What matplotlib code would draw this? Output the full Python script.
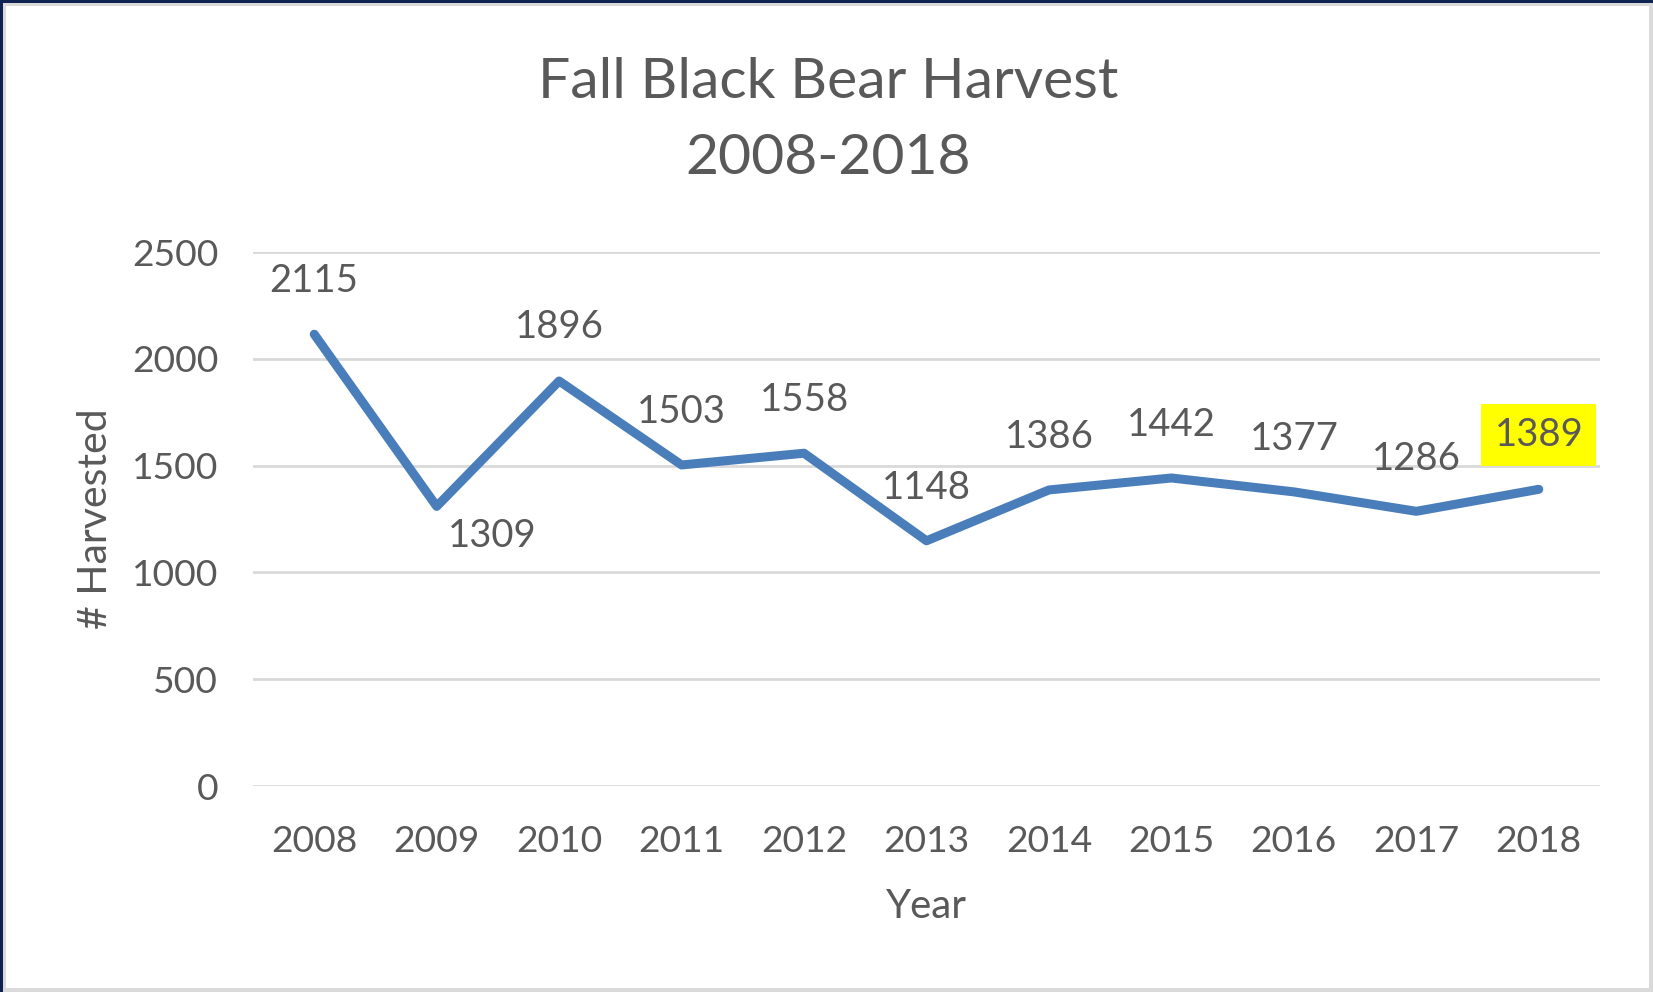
import matplotlib
matplotlib.use("Agg")
import matplotlib.pyplot as plt
from matplotlib.patches import Rectangle

years = ["2008", "2009", "2010", "2011", "2012", "2013", "2014", "2015", "2016", "2017", "2018"]
harvest = [2115, 1309, 1896, 1503, 1558, 1148, 1386, 1442, 1377, 1286, 1389]
y_ticks = [0, 500, 1000, 1500, 2000, 2500]
# label offsets in points (dx, dy) relative to each point
label_offsets = [(0, 38), (40, -21), (0, 39), (0, 38), (0, 38), (0, 38),
                 (0, 38), (0, 38), (0, 38), (0, 38), (0, 39)]

W, H = 1653, 992
fig = plt.figure(figsize=(W / 100, H / 100), dpi=100, facecolor="#DADADA")
plt.rcParams['font.family'] = ['Lato', 'DejaVu Sans']

def px_rect(x0, y0_top, x1, y1_top, color):
    fig.patches.append(Rectangle((x0 / W, 1 - y1_top / H), (x1 - x0) / W, (y1_top - y0_top) / H,
                                 transform=fig.transFigure, facecolor=color, edgecolor='none', zorder=-10))

px_rect(6, 6, 1649, 988, "white")
px_rect(0, 0, W, 2.5, "#0E2350")
px_rect(0, 0, 2.5, H, "#0E2350")

text_color = "#595959"
ax = fig.add_axes([253 / W, 1 - 786 / H, (1600 - 253) / W, (786 - 252) / H])
ax.set_facecolor("none")
x = list(range(len(years)))
ax.plot(x, harvest, color="#4A7EBB", lw=6.5, solid_capstyle='round', solid_joinstyle='round', zorder=3)
ax.set_xlim(-0.5, len(years) - 0.5)
ax.set_ylim(0, 2500)
ax.set_yticks(y_ticks)
ax.set_xticks(x)
ax.set_xticklabels(years)
ax.grid(axis='y', color="#D9D9D9", lw=2)
ax.set_axisbelow(True)
for s in ax.spines.values():
    s.set_visible(False)
ax.tick_params(length=0, labelsize=26.8, labelcolor=text_color)
ax.tick_params(axis='x', pad=28)
ax.tick_params(axis='y', pad=25)

for i, (v, (dx, dy)) in enumerate(zip(harvest, label_offsets)):
    kw = {}
    if i == len(harvest) - 1:
        kw['bbox'] = dict(boxstyle='square,pad=0.34', facecolor='#FFFF00', edgecolor='none')
    ax.annotate(str(v), (i, v), xytext=(dx, dy), textcoords='offset points',
                ha='center', va='center', fontsize=27.5, color=text_color, **kw)

ax.set_xlabel("Year", fontsize=29, color=text_color, labelpad=22)
ax.set_ylabel("# Harvested", fontsize=29.5, color=text_color, labelpad=13)

fig.text(828 / W, 1 - 82 / H, "Fall Black Bear Harvest", ha='center', va='center', fontsize=41, color=text_color)
fig.text(828 / W, 1 - 158 / H, "2008-2018", ha='center', va='center', fontsize=41, color=text_color)

fig.savefig("out.png", dpi=100, facecolor=fig.get_facecolor())
